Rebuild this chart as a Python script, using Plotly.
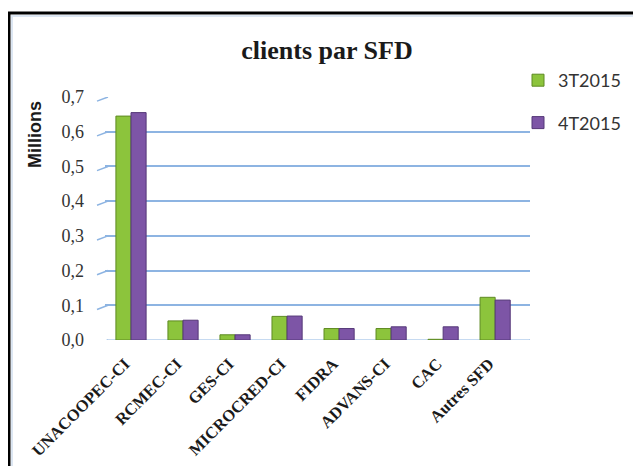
import plotly.graph_objects as go

categories = ["UNACOOPEC-CI", "RCMEC-CI", "GES-CI", "MICROCRED-CI", "FIDRA", "ADVANS-CI", "CAC", "Autres SFD"]
series_names = ["3T2015", "4T2015"]
values_3t2015 = [0.645, 0.055, 0.015, 0.068, 0.033, 0.033, 0.002, 0.123]
values_4t2015 = [0.655, 0.057, 0.015, 0.069, 0.033, 0.038, 0.038, 0.115]
y_ticks = [0.0, 0.1, 0.2, 0.3, 0.4, 0.5, 0.6, 0.7]

# the page has an 8px body margin; work in page pixels and convert
OFF = 8
W, H = 641 - OFF, 466 - OFF
PL, PR, PT, PB = 105, 530, 97, 340   # plot area in page pixels
L, T = PL - OFF, PT - OFF
R, B = (641 - PR), (466 - PB)
pw, ph = PR - PL, PB - PT

def px_x(px):
    return (px - PL) / pw

def px_y(py):
    return 1 - (py - PT) / ph

fig = go.Figure()
fig.add_trace(go.Bar(name=series_names[0], x=categories, y=values_3t2015, legendgroup="a",
                     marker=dict(color="#8CC43C", line=dict(color="#5E8A22", width=1))))
fig.add_trace(go.Bar(name=series_names[1], x=categories, y=values_4t2015, legendgroup="b",
                     marker=dict(color="#7D55A6", line=dict(color="#553878", width=1))))

shapes = []
for v in y_ticks:
    shapes.append(dict(type="line", xref="paper", yref="y",
                       x0=px_x(97), x1=px_x(108), y0=v - 0.012, y1=v,
                       line=dict(color="#8DB4E2", width=1.5)))
shapes.append(dict(type="path", xref="paper", yref="y",
                   path=f"M {px_x(97)},-0.012 L {px_x(108)},0 L {px_x(530)},0 L {px_x(520)},-0.012 Z",
                   fillcolor="#E4E8EE", line=dict(color="#8DB4E2", width=1), layer="below"))
# outer frame (left and top)
shapes.append(dict(type="line", xref="paper", yref="paper",
                   x0=px_x(9), x1=px_x(9), y0=px_y(13), y1=px_y(480),
                   line=dict(color="black", width=3)))
shapes.append(dict(type="line", xref="paper", yref="paper",
                   x0=px_x(8), x1=px_x(660), y0=px_y(13), y1=px_y(13),
                   line=dict(color="black", width=3)))
shapes.append(dict(type="line", xref="paper", yref="paper",
                   x0=px_x(12), x1=px_x(12), y0=px_y(16), y1=px_y(480),
                   line=dict(color="#DCE6F2", width=2)))
shapes.append(dict(type="line", xref="paper", yref="paper",
                   x0=px_x(11), x1=px_x(660), y0=px_y(16), y1=px_y(16),
                   line=dict(color="#DCE6F2", width=2)))

fig.update_layout(
    width=W, height=H,
    margin=dict(l=L, r=R, t=T, b=B, autoexpand=False),
    paper_bgcolor="white", plot_bgcolor="white",
    separators=",.",
    barmode="group", bargap=0.42, bargroupgap=0.0,
    title=dict(text="<b>clients par SFD</b>", x=(327 - OFF) / W, xanchor="center",
               y=1 - (50 - OFF) / H, yanchor="middle",
               font=dict(family="Liberation Serif, DejaVu Serif, serif", size=26, color="#1a1a1a")),
    legend=dict(x=px_x(518), xanchor="left", y=px_y(62), yanchor="top", traceorder="grouped",
                font=dict(family="Lato, Open Sans, sans-serif", size=18, color="#333333"),
                tracegroupgap=16, itemwidth=30, bgcolor="rgba(0,0,0,0)"),
    xaxis=dict(range=[-0.5, 7.67], tickangle=-45, showgrid=False, showline=False, ticks="",
               ticklabelstandoff=10, ticklabelshift=-6,
               tickfont=dict(family="Liberation Serif, serif", size=16.5, color="#1a1a1a", weight="bold")),
    yaxis=dict(range=[0, 0.7], tickvals=y_ticks, tickformat=".1f", showgrid=True,
               gridcolor="#8DB4E2", gridwidth=1.5, zeroline=False, showline=False, ticks="",
               ticklabelstandoff=20,
               tickfont=dict(family="Liberation Serif, serif", size=18, color="#333333")),
    shapes=shapes,
    annotations=[dict(text="<b>Millions</b>", textangle=-90, xref="paper", yref="paper",
                      x=px_x(35), y=px_y(135), xanchor="center", yanchor="middle", showarrow=False,
                      font=dict(family="Liberation Sans, Arial, sans-serif", size=18, color="#1a1a1a"))],
)

fig.write_html("out.html")
